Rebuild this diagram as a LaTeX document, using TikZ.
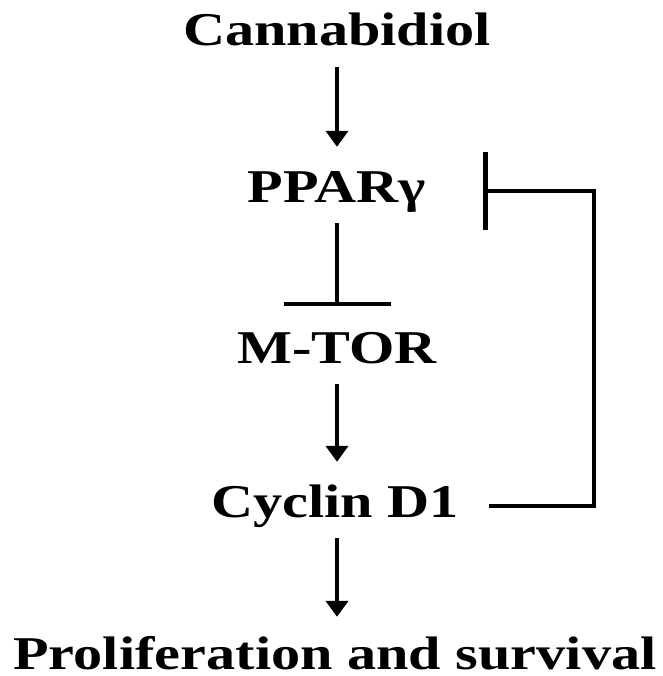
\documentclass[tikz,border=0pt]{standalone}
\usepackage{fontspec}
\setmainfont[FakeStretch=1.24]{Liberation Serif}
\usetikzlibrary{arrows.meta}

\begin{document}
\begin{tikzpicture}[x=1pt, y=-1pt,
    lbl/.style={anchor=base, inner sep=0pt, text height=32pt, text depth=10pt,
                font=\bfseries\fontsize{47}{50}\selectfont},
    act/.style={line width=4.2pt, shorten <=11pt, shorten >=23pt,
                -{Triangle[length=16pt,width=22pt]}},
    inh/.style={line width=4.2pt, -{Bar[width=#1]}}]
            \useasboundingbox (0,0) rectangle (662,676);

            % Add labels
            \node[lbl] (cbd)    at (337,46)  {Cannabidiol};
            \node[lbl] (ppar)   at (337,202) {PPARγ};
            \node[lbl] (mtor)   at (337,363) {M-TOR};
            \node[lbl] (cyclin) at (335,517) {Cyclin D1};
            \node[lbl, text depth=1pt] (prolif) at (335,669) {Proliferation and survival};

            % Draw edges
            \draw[act] (cbd.south -| 337,0) -- (ppar.north -| 337,0);
            \draw[inh=107pt, shorten <=11pt, shorten >=25pt] (ppar.south -| 337,0) -- (mtor.north -| 337,0);
            \draw[act] (mtor.south -| 337,0) -- (cyclin.north -| 337,0);
            \draw[act, shorten >=20pt] (cyclin.south -| 337,0) -- (prolif.north -| 337,0);

            % Feedback loop
            \coordinate (fb_out) at ([xshift=30pt]cyclin.east);
            \coordinate (fb_in) at ([xshift=57pt]ppar.east);
            \draw[inh=77pt] (fb_out) -- ++(105,0) |- (fb_in);
\end{tikzpicture}
\end{document}
